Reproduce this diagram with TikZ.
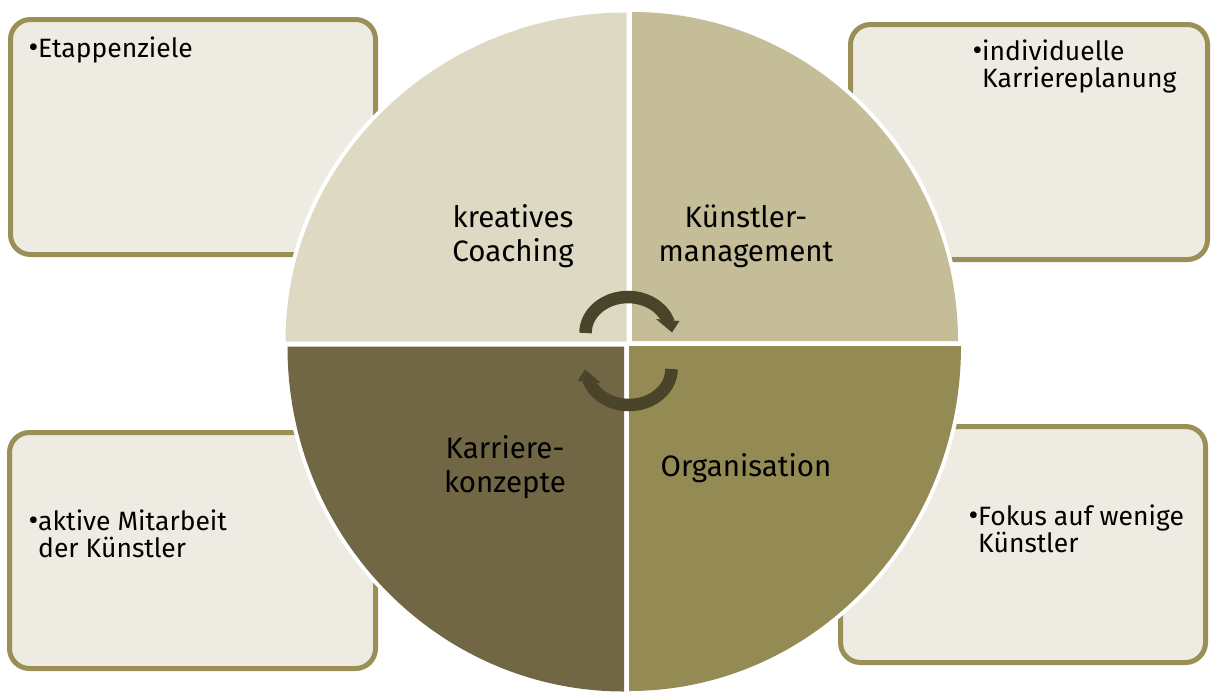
\documentclass[tikz,border=0pt]{standalone}
\usepackage{fontspec}
\setmainfont{Fira Sans}
\definecolor{qa}{HTML}{DDD9C3}
\definecolor{qb}{HTML}{C4BD97}
\definecolor{qc}{HTML}{716744}
\definecolor{qd}{HTML}{948A54}
\definecolor{arrowcol}{HTML}{4A452A}
\definecolor{boxfill}{HTML}{EEECE2}
\definecolor{boxline}{HTML}{9A8F57}
\begin{document}
\begin{tikzpicture}[x=1pt,y=-1pt,
  box/.style={draw=boxline, fill=boxfill, line width=5pt, rounded corners=20pt, inner sep=0pt, outer sep=0pt},
  btxt/.style={font=\fontsize{26.5}{30}\selectfont, inner sep=0pt, anchor=base west, text=black},
  bul/.style={font=\fontsize{30}{30}\selectfont, inner sep=0pt, anchor=base east, text=black},
  ctxt/.style={font=\fontsize{29.5}{34}\selectfont, inner sep=0pt, anchor=base, text=black},
  band/.style={draw=arrowcol, line width=12.5pt}]
\useasboundingbox (0,0) rectangle (1212,691);
\fill[white] (0,0) rectangle (1212,691);
% side boxes
\node[box, minimum width=365pt, minimum height=235pt] (boxTL) at (193,137) {};
\node[box, minimum width=357pt, minimum height=235pt] (boxTR) at (1029,142) {};
\node[box, minimum width=366pt, minimum height=236pt] (boxBL) at (192.5,550.5) {};
\node[box, minimum width=365pt, minimum height=236pt] (boxBR) at (1023,544.5) {};
% white halo round the circle
\fill[white] (626.5,341.5) -- ++(-345,0) arc[start angle=180,end angle=270,x radius=345,y radius=333] -- cycle;
\fill[white] (632,341) -- ++(0,-333) arc[start angle=270,end angle=360,x radius=330,y radius=333] -- cycle;
\fill[white] (624,346.5) -- ++(-340.5,0) arc[start angle=180,end angle=90,x radius=340.5,y radius=349] -- cycle;
\fill[white] (629,346) -- ++(336,0) arc[start angle=0,end angle=90,x radius=336,y radius=349] -- cycle;
% quadrants
\fill[qa] (626.5,341.5) -- ++(-341,0) arc[start angle=180,end angle=270,x radius=341,y radius=329] -- cycle;
\fill[qb] (632,341) -- ++(0,-329) arc[start angle=270,end angle=360,x radius=326,y radius=329] -- cycle;
\fill[qc] (624,346.5) -- ++(-336.5,0) arc[start angle=180,end angle=90,x radius=336.5,y radius=345] -- cycle;
\fill[qd] (629,346) -- ++(332,0) arc[start angle=0,end angle=90,x radius=332,y radius=345] -- cycle;
% circular arrows
\draw[band] (585.5,333) arc[start angle=180,end angle=343,x radius=42.5,y radius=36];
\fill[arrowcol] (656,319) -- (679.5,321) -- (672,332.5) -- cycle;
\draw[band] (671.5,369) arc[start angle=0,end angle=163,x radius=42.5,y radius=36];
\fill[arrowcol] (601,383) -- (577.5,381) -- (585,369.5) -- cycle;
% circle labels
\node[ctxt] (c1a) at (513,227) {kreatives};
\node[ctxt] (c1b) at (513,261) {Coaching};
\node[ctxt] (c2a) at (746,227) {Künstler-};
\node[ctxt] (c2b) at (746,261) {management};
\node[ctxt] (c3a) at (505,458) {Karriere-};
\node[ctxt] (c3b) at (505,492) {konzepte};
\node[ctxt] (c4a) at (746,476) {Organisation};
% box texts
\node[bul] (b1) at (38.5,57) {\textbullet};
\node[btxt] (t1) at (38,57) {Etappenziele};
\node[bul] (b2) at (982.5,60) {\textbullet};
\node[btxt] (t2a) at (982,60) {individuelle};
\node[btxt] (t2b) at (982,87) {Karriereplanung};
\node[bul] (b3) at (38.5,530) {\textbullet};
\node[btxt] (t3a) at (38,530) {aktive Mitarbeit};
\node[btxt] (t3b) at (38,557) {der Künstler};
\node[bul] (b4) at (978.5,525) {\textbullet};
\node[btxt] (t4a) at (978,525) {Fokus auf wenige};
\node[btxt] (t4b) at (978,552) {Künstler};
\end{tikzpicture}
\end{document}
